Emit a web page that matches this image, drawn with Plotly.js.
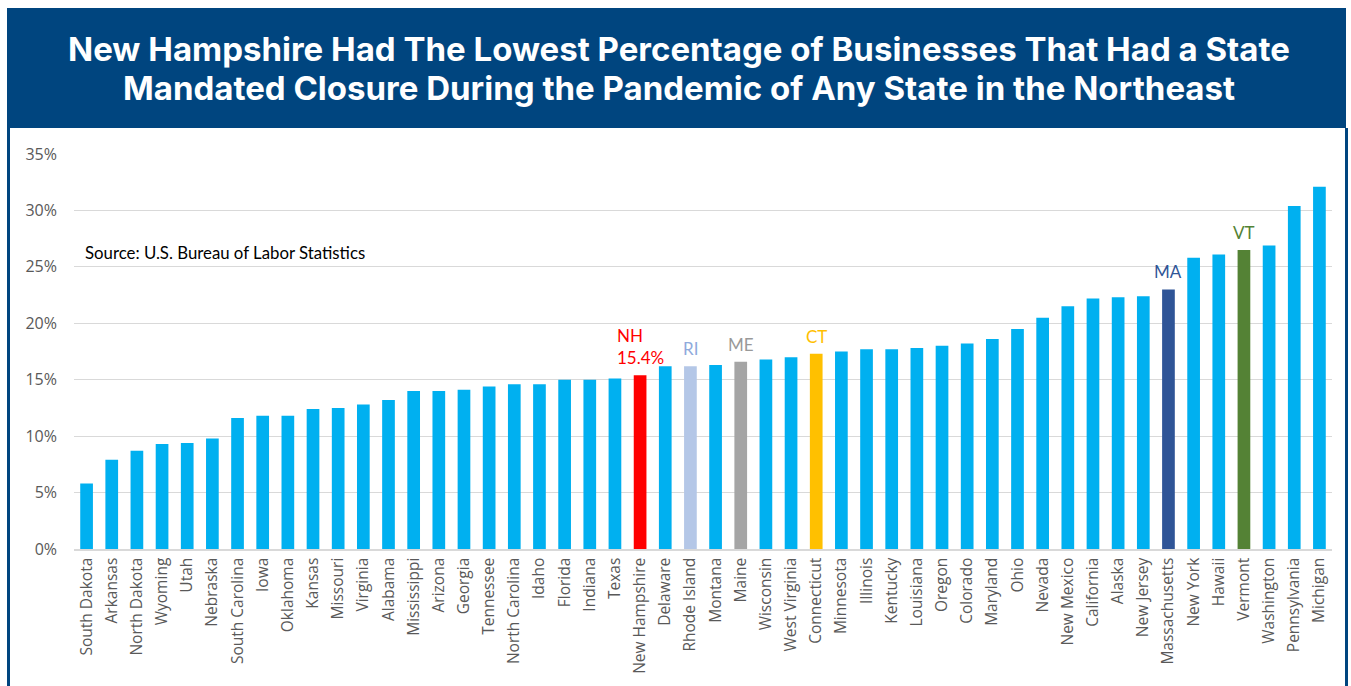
<!DOCTYPE html>
<html>
<head>
<meta charset="utf-8">
<script src="https://cdn.plot.ly/plotly-3.0.1.min.js"></script>
<style>html,body{margin:0;padding:0;background:#fff;}#chart{width:1351px;height:686px;}</style>
</head>
<body>
<div id="chart"></div>
<script>
// ---- Data ----
const states = ["South Dakota","Arkansas","North Dakota","Wyoming","Utah","Nebraska","South Carolina","Iowa","Oklahoma","Kansas","Missouri","Virginia","Alabama","Mississippi","Arizona","Georgia","Tennessee","North Carolina","Idaho","Florida","Indiana","Texas","New Hampshire","Delaware","Rhode Island","Montana","Maine","Wisconsin","West Virginia","Connecticut","Minnesota","Illinois","Kentucky","Louisiana","Oregon","Colorado","Maryland","Ohio","Nevada","New Mexico","California","Alaska","New Jersey","Massachusetts","New York","Hawaii","Vermont","Washington","Pennsylvania","Michigan"];
const closurePct = [5.8,7.9,8.7,9.3,9.4,9.8,11.6,11.8,11.8,12.4,12.5,12.8,13.2,14.0,14.0,14.1,14.4,14.6,14.6,15.0,15.0,15.1,15.4,16.2,16.2,16.3,16.6,16.8,17.0,17.3,17.5,17.7,17.7,17.8,18.0,18.2,18.6,19.5,20.5,21.5,22.2,22.3,22.4,23.0,25.8,26.1,26.5,26.9,30.4,32.1];
const highlightStates = ["New Hampshire","Rhode Island","Maine","Connecticut","Massachusetts","Vermont"];
const highlightLabels = ["NH<br>15.4%","RI","ME","CT","MA","VT"];
const yTickVals = [0,5,10,15,20,25,30,35];
const titleLines = ["New Hampshire Had The Lowest Percentage of Businesses That Had a State",
                    "Mandated Closure During the Pandemic of Any State in the Northeast"];
const sourceText = "Source: U.S. Bureau of Labor Statistics";

// ---- Styles ----
const baseColor = "#00B0F0";
const highlightBarColors = {"New Hampshire":"#FF0000","Rhode Island":"#B4C7E7","Maine":"#A5A5A5","Connecticut":"#FFC000","Massachusetts":"#2F5597","Vermont":"#548235"};
const highlightTextColors = {"New Hampshire":"#FF0000","Rhode Island":"#8FAADC","Maine":"#999999","Connecticut":"#FFC000","Massachusetts":"#2F5597","Vermont":"#548235"};
const labelFont = "Lato, Open Sans, sans-serif";
const axisFont = "Open Sans, Noto Sans, sans-serif";

const W = 1351, H = 686;
const L = 74, R = 1332, T = 154, B = 549;
const px = x => (x - L) / (R - L);
const py = y => (B - y) / (B - T);

const barColors = states.map(s => highlightBarColors[s] || baseColor);

const trace = {
  type: "bar",
  x: states,
  y: closurePct,
  marker: {color: barColors},
  hoverinfo: "x+y"
};

const annotations = highlightStates.map((s, i) => ({
  x: s,
  y: closurePct[states.indexOf(s)],
  xref: "x", yref: "y",
  text: highlightLabels[i],
  showarrow: false,
  xanchor: "center",
  yanchor: "bottom",
  align: "left",
  yshift: 5,
  font: {family: labelFont, size: 17, color: highlightTextColors[s]}
}));

annotations.push({
  xref: "paper", yref: "paper",
  x: px(83), y: py(252.5),
  xanchor: "left", yanchor: "middle",
  text: sourceText,
  showarrow: false,
  font: {family: labelFont, size: 16.8, color: "#000000"}
});

const titleCenters = [49, 88];
titleLines.forEach((t, i) => annotations.push({
  xref: "paper", yref: "paper",
  x: px(679), y: py(titleCenters[i]),
  xanchor: "center", yanchor: "middle",
  text: "<b>" + t + "</b>",
  showarrow: false,
  font: {family: "Inter, Roboto, sans-serif", size: 33, color: "#ffffff"}
}));

const shapes = [
  {type: "rect", xref: "paper", yref: "paper", x0: px(7), x1: px(1346), y0: py(128), y1: py(8),
   fillcolor: "#00457F", line: {width: 0}, layer: "below"},
  {type: "line", xref: "paper", yref: "paper", x0: px(8.5), x1: px(8.5), y0: py(128), y1: py(690),
   line: {color: "#00457F", width: 3}},
  {type: "line", xref: "paper", yref: "paper", x0: px(1346.5), x1: px(1346.5), y0: py(128), y1: py(690),
   line: {color: "#00457F", width: 3}}
];

const layout = {
  width: W, height: H,
  margin: {l: L, r: W - R, t: T, b: H - B, pad: 0},
  paper_bgcolor: "#ffffff",
  plot_bgcolor: "#ffffff",
  showlegend: false,
  bargap: 0.495,
  xaxis: {
    type: "category",
    tickangle: -90,
    tickfont: {family: axisFont, size: 15.5, color: "#595959"},
    showline: true, linecolor: "#D9D9D9", linewidth: 1.5,
    ticks: "", showgrid: false,
    ticklabelstandoff: 1,
    fixedrange: true
  },
  yaxis: {
    range: [0, 35],
    tickvals: yTickVals,
    ticktext: yTickVals.map(v => v + "%"),
    tickfont: {family: axisFont, size: 16, color: "#595959"},
    showgrid: true, gridcolor: "#D9D9D9", gridwidth: 1,
    zeroline: false, showline: false, ticks: "",
    ticklabelstandoff: 16,
    fixedrange: true
  },
  shapes: shapes,
  annotations: annotations
};

Plotly.newPlot("chart", [trace], layout, {displayModeBar: false, staticPlot: true});
</script>
</body>
</html>
